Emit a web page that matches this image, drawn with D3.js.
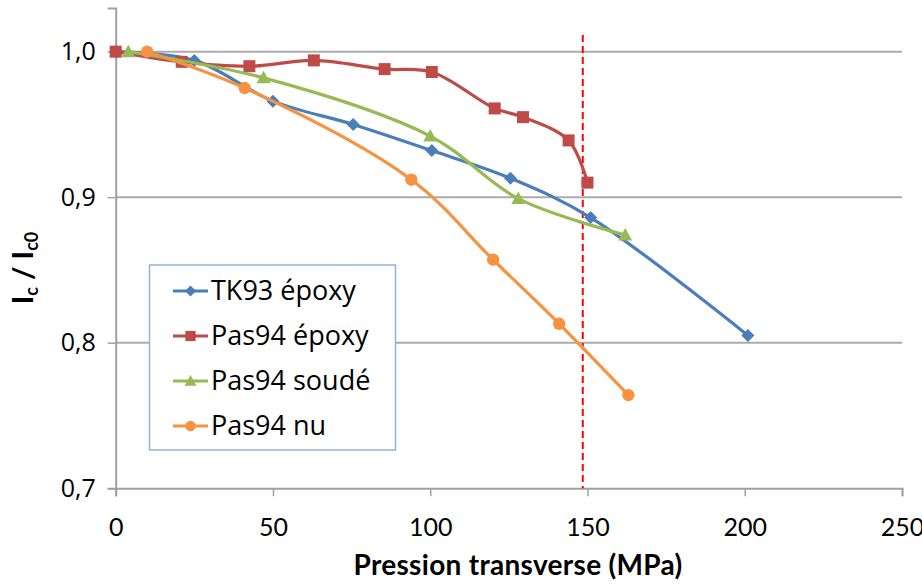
<!DOCTYPE html>
<html>
<head>
<meta charset="utf-8">
<script src="https://cdn.jsdelivr.net/npm/d3@7"></script>
<style>
  body { margin: 0; background: #fff; }
  svg { display: block; }
</style>
</head>
<body>
<div id="target"></div>
<script>
// data
const pressureTK93 = [0, 25, 50, 75.5, 100.5, 125.5, 151, 201]
const icTK93 = [1.0, 0.994, 0.966, 0.950, 0.932, 0.913, 0.886, 0.805]

const pressurePasEpoxy = [0, 21, 42.5, 63, 85.5, 100.5, 120.5, 129.5, 144, 150]
const icPasEpoxy = [1.0, 0.993, 0.990, 0.994, 0.988, 0.986, 0.961, 0.955, 0.939, 0.910]

const pressurePasSoude = [4, 47, 100, 128, 162]
const icPasSoude = [1.0, 0.982, 0.942, 0.899, 0.874]

const pressurePasNu = [10, 41, 94, 120, 141, 163]
const icPasNu = [1.0, 0.975, 0.912, 0.857, 0.813, 0.764]

const seriesNames = ['TK93 époxy', 'Pas94 époxy', 'Pas94 soudé', 'Pas94 nu']
const xTicks = [0, 50, 100, 150, 200, 250]
const yTicks = [0.7, 0.8, 0.9, 1.0]
const limitPressure = 148.5
const limitTop = 1.0115

const colors = {
    grid: '#ababab',
    axis: '#a0a0a0',
    text: '#000',
    limit: '#ff0000',
    legendBorder: '#95b3d7',
    series: ['#4a7ebb', '#be4b48', '#98b954', '#f69240']
}

const series = [
    { name: seriesNames[0], xs: pressureTK93, ys: icTK93, marker: 'diamond' },
    { name: seriesNames[1], xs: pressurePasEpoxy, ys: icPasEpoxy, marker: 'square' },
    { name: seriesNames[2], xs: pressurePasSoude, ys: icPasSoude, marker: 'triangle' },
    { name: seriesNames[3], xs: pressurePasNu, ys: icPasNu, marker: 'circle' }
]

const width = 922
const height = 585

const svg = d3.select('#target').append('svg')
    .attr('width', width)
    .attr('height', height)

const x = d3.scaleLinear().domain([0, 250]).range([115.7, 902])
const y = d3.scaleLinear().domain([0.7, 1.03]).range([488.2, 8])

const markerPath = {
    diamond: 'M0,-6.5L6.5,0L0,6.5L-6.5,0Z',
    square: 'M-6,-6H6V6H-6Z',
    triangle: 'M0,-7L7,5.5H-7Z',
    circle: d3.symbol(d3.symbolCircle, 120)()
}

//Grid
svg.append('g')
    .selectAll('line')
    .data(yTicks.filter(d => d > 0.7))
    .join('line')
    .attr('x1', x(0))
    .attr('x2', x(250))
    .attr('y1', d => y(d))
    .attr('y2', d => y(d))
    .attr('stroke', colors.grid)
    .attr('stroke-width', 2)

//Axes
const xAxis = svg.append('g')
    .attr('transform', `translate(0,${y(0.7)})`)
    .call(d3.axisBottom(x).tickValues(xTicks).tickSize(8).tickFormat(d3.format('d')))
xAxis.select('.domain').attr('stroke', colors.axis).attr('stroke-width', 2)
xAxis.selectAll('.tick line').attr('stroke', colors.axis).attr('stroke-width', 1.5)
xAxis.selectAll('.tick text')
    .attr('font-family', 'Lato, sans-serif')
    .attr('font-size', 25)
    .attr('fill', colors.text)
    .attr('y', 39)
    .attr('dy', '0.35em')

const yAxis = svg.append('g')
    .attr('transform', `translate(${x(0)},0)`)
    .call(d3.axisLeft(y).tickValues(yTicks).tickSize(8).tickFormat(d => d3.format('.1f')(d).replace('.', ',')))
yAxis.select('.domain').attr('stroke', colors.axis).attr('stroke-width', 2)
yAxis.selectAll('.tick line').attr('stroke', colors.axis).attr('stroke-width', 1.5)
yAxis.selectAll('.tick text')
    .attr('font-family', '"Open Sans", sans-serif')
    .attr('font-size', 25)
    .attr('fill', colors.text)
    .attr('x', -20)

//Limit line
svg.append('line')
    .attr('x1', x(limitPressure))
    .attr('x2', x(limitPressure))
    .attr('y1', y(limitTop))
    .attr('y2', y(0.7))
    .attr('stroke', colors.limit)
    .attr('stroke-width', 2)
    .attr('stroke-dasharray', '7,4')

//Series
const line = d3.line()
    .x(d => x(d[0]))
    .y(d => y(d[1]))
    .curve(d3.curveCatmullRom.alpha(0.5))

series.forEach((s, i) => {
    const pts = s.xs.map((v, j) => [v, s.ys[j]])
    const g = svg.append('g')
    g.append('path')
        .attr('d', line(pts))
        .attr('fill', 'none')
        .attr('stroke', colors.series[i])
        .attr('stroke-width', 3.2)
        .attr('stroke-linejoin', 'round')
    g.selectAll('path.marker')
        .data(pts)
        .join('path')
        .attr('class', 'marker')
        .attr('d', markerPath[s.marker])
        .attr('transform', d => `translate(${x(d[0])},${y(d[1])})`)
        .attr('fill', colors.series[i])
})

//Legend
const legend = svg.append('g')
legend.append('rect')
    .attr('x', 149.5)
    .attr('y', 265)
    .attr('width', 246)
    .attr('height', 185)
    .attr('fill', '#fff')
    .attr('stroke', colors.legendBorder)
    .attr('stroke-width', 1.5)

series.forEach((s, i) => {
    const cy = 291 + i * 45
    legend.append('line')
        .attr('x1', 173)
        .attr('x2', 208)
        .attr('y1', cy)
        .attr('y2', cy)
        .attr('stroke', colors.series[i])
        .attr('stroke-width', 3.2)
    legend.append('path')
        .attr('d', markerPath[s.marker])
        .attr('transform', `translate(190.5,${cy}) scale(0.85)`)
        .attr('fill', colors.series[i])
    legend.append('text')
        .attr('x', 211)
        .attr('y', cy)
        .attr('dy', '0.35em')
        .attr('font-family', '"Open Sans", sans-serif')
        .attr('font-size', 27)
        .attr('fill', colors.text)
        .text(s.name)
})

//Axis titles
svg.append('text')
    .attr('x', 518)
    .attr('y', 575)
    .attr('text-anchor', 'middle')
    .attr('font-family', 'Lato, sans-serif')
    .attr('font-weight', 'bold')
    .attr('font-size', 28)
    .attr('letter-spacing', 0.3)
    .attr('fill', colors.text)
    .text('Pression transverse (MPa)')

const yTitle = svg.append('text')
    .attr('transform', 'translate(33,268) rotate(-90)')
    .attr('text-anchor', 'middle')
    .attr('font-family', 'Lato, sans-serif')
    .attr('font-weight', 'bold')
    .attr('font-size', 29)
    .attr('fill', colors.text)
yTitle.append('tspan').text('I')
yTitle.append('tspan').attr('font-size', 18).attr('dy', 5).text('c')
yTitle.append('tspan').attr('dy', -5).text(' / I')
yTitle.append('tspan').attr('font-size', 18).attr('dy', 5).text('c0')
</script>
</body>
</html>
